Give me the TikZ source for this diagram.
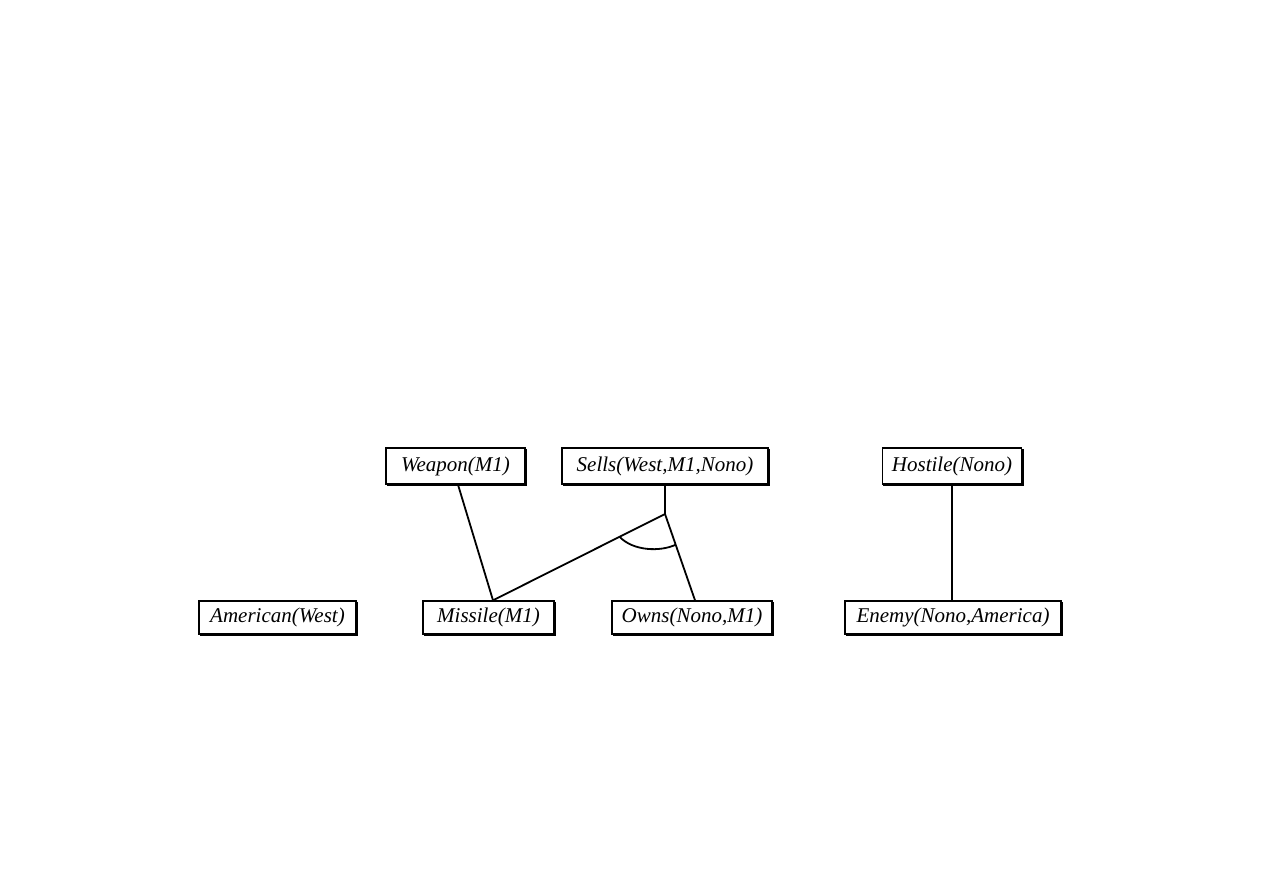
\documentclass[tikz,border=0pt]{standalone}
\usepackage{fontspec}
\setmainfont{Liberation Serif}
\usetikzlibrary{calc}
\tikzset{
  fact/.style={draw, line width=1.4pt, inner sep=0pt, font=\fontsize{21}{24}\selectfont\itshape},
  link/.style={line width=1.8pt},
}
\newcommand{\factbox}[6]{% name, x, y, w, h, text
  \node[fact, minimum width=#4pt, minimum height=#5pt] (#1) at (#2,#3) {#6};
  \draw[line width=2.2pt] ($(#1.south west)+(1.2pt,-0.4pt)$) -- ($(#1.south east)+(0.4pt,-0.4pt)$) -- ($(#1.north east)+(0.4pt,-1.2pt)$);
}
\begin{document}
\begin{tikzpicture}[x=1pt,y=-1pt]
\useasboundingbox (0,0) rectangle (1263,893);
\factbox{weapon}{455.5}{466}{139}{36}{Weapon(M1)}
\factbox{sells}{665}{466}{206}{36}{Sells(West,M1,Nono)}
\factbox{hostile}{952}{466}{139}{36}{Hostile(Nono)}
\factbox{american}{277.5}{617.5}{157}{33}{American(West)}
\factbox{missile}{488.5}{617.5}{131}{33}{Missile(M1)}
\factbox{owns}{692}{617.5}{160}{33}{Owns(Nono,M1)}
\factbox{enemy}{953}{617.5}{216}{33}{Enemy(Nono,America)}
\coordinate (apex) at (665,514);
\coordinate (mtop) at ($(missile.north)+(4.5,0)$);
\coordinate (otop) at ($(owns.north)+(3,0)$);
\draw[link] ($(weapon.south)+(2.5,0)$) -- (mtop);
\draw[link] (sells.south) -- (apex);
\draw[link] (apex) -- (mtop);
\draw[link] (apex) -- (otop);
\draw[link] ($(apex)!0.264!(mtop)$) .. controls (633,551) and (660,552) .. ($(apex)!0.356!(otop)$);
\draw[link] (hostile.south) -- (hostile.south |- enemy.north);
\end{tikzpicture}
\end{document}
